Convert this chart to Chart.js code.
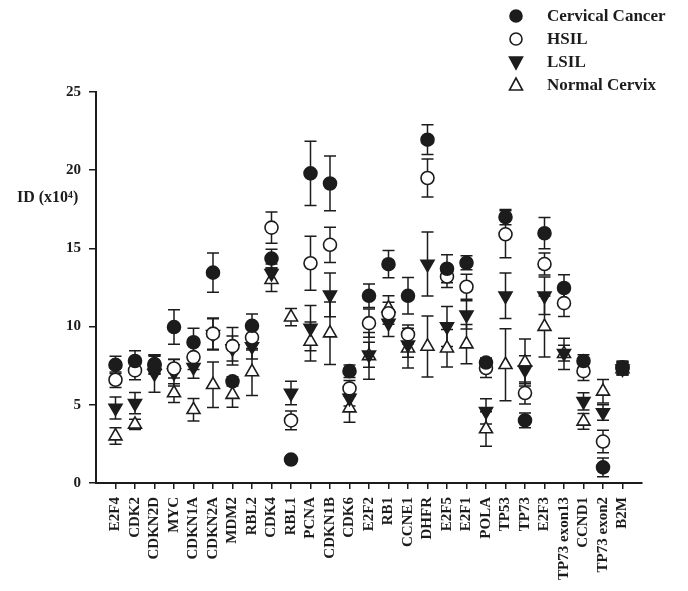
<!DOCTYPE html>
<html>
<head>
<meta charset="utf-8">
<script src="https://cdn.jsdelivr.net/npm/chart.js@4.4.1/dist/chart.umd.min.js"></script>
<style>
  html, body { margin: 0; padding: 0; background: #fff; }
  #wrap { width: 688px; height: 591px; position: relative; }
</style>
</head>
<body>
<div id="wrap"><canvas id="idChart"></canvas></div>
<script>
const categories = ['E2F4', 'CDK2', 'CDKN2D', 'MYC', 'CDKN1A', 'CDKN2A', 'MDM2', 'RBL2', 'CDK4', 'RBL1',
    'PCNA', 'CDKN1B', 'CDK6', 'E2F2', 'RB1', 'CCNE1', 'DHFR', 'E2F5', 'E2F1', 'POLA',
    'TP53', 'TP73', 'E2F3', 'TP73 exon13', 'CCND1', 'TP73 exon2', 'B2M'];

const cancerValues = [7.55, 7.8, 7.6, 9.97, 9.0, 13.45, 6.5, 10.05, 14.35, 1.5,
    19.8, 19.15, 7.15, 11.97, 13.99, 11.97, 21.95, 13.7, 14.08, 7.7,
    17.0, 4.0, 15.97, 12.47, 7.8, 1.0, 7.4];
const cancerErr = [0.55, 0.65, 0.6, 1.1, 0.9, 1.25, 0.3, 0.75, 0.6, 0.2,
    2.05, 1.75, 0.4, 0.75, 0.87, 1.17, 0.95, 0.9, 0.45, 0.3,
    0.48, 0.47, 1.0, 0.85, 0.4, 0.6, 0.4];

const hsilValues = [6.6, 7.2, 7.55, 7.32, 8.05, 9.55, 8.75, 9.3, 16.33, 4.0,
    14.05, 15.23, 6.05, 10.22, 10.85, 9.5, 19.5, 13.2, 12.55, 7.35,
    15.9, 5.75, 14.0, 11.5, 7.15, 2.65, 7.35];
const hsilErr = [0.5, 0.6, 0.6, 0.6, 0.8, 1.0, 1.2, 0.8, 1.0, 0.6,
    1.72, 1.13, 0.5, 0.9, 0.7, 0.6, 1.22, 0.7, 0.8, 0.6,
    1.5, 0.7, 0.7, 0.85, 0.6, 0.72, 0.4];

const lsilValues = [4.8, 5.1, 7.0, 7.05, 7.4, 9.5, 8.6, 8.73, 13.4, 5.75,
    9.9, 12.03, 5.43, 8.2, 10.22, 8.84, 14.0, 10.0, 10.75, 4.58,
    11.97, 7.24, 11.97, 8.3, 5.22, 4.51, 7.3];
const lsilErr = [0.7, 0.68, 1.2, 0.85, 0.7, 1.0, 0.8, 0.8, 0.6, 0.75,
    1.45, 1.4, 0.5, 0.8, 0.85, 0.8, 2.05, 1.28, 0.9, 0.8,
    1.45, 0.9, 1.2, 0.5, 0.55, 0.5, 0.4];

const normalValues = [3.0, 3.75, 7.55, 5.75, 4.68, 6.28, 5.65, 7.1, 13.0, 10.6,
    9.05, 9.58, 4.79, 8.13, 11.18, 8.62, 8.73, 8.62, 8.88, 3.45,
    7.56, 7.71, 10.0, 8.26, 3.94, 5.86, 7.3];
const normalErr = [0.53, 0.33, 0.55, 0.6, 0.72, 1.45, 0.8, 1.5, 0.75, 0.55,
    1.25, 2.0, 0.9, 1.5, 0.8, 1.27, 1.95, 1.2, 1.25, 1.1,
    2.3, 1.5, 1.95, 1.0, 0.5, 0.75, 0.4];

const yTicks = [0, 5, 10, 15, 20, 25];

const ink = '#1c1c1c';
const serif = "'Liberation Serif', 'DejaVu Serif', serif";

function points(values) {
    return values.map((v, i) => ({ x: i, y: v }));
}

// error bars, drawn under the markers
const errorBars = {
    id: 'errorBars',
    beforeDatasetsDraw(chart) {
        const { ctx, scales: { x, y } } = chart;
        ctx.save();
        ctx.strokeStyle = ink;
        ctx.lineWidth = 1.5;
        chart.data.datasets.forEach((ds) => {
            ds.data.forEach((p, i) => {
                const e = ds.errors[i];
                const px = x.getPixelForValue(p.x);
                const top = y.getPixelForValue(p.y + e);
                const bot = y.getPixelForValue(p.y - e);
                ctx.beginPath();
                ctx.moveTo(px, top); ctx.lineTo(px, bot);
                ctx.moveTo(px - 6, top); ctx.lineTo(px + 6, top);
                ctx.moveTo(px - 6, bot); ctx.lineTo(px + 6, bot);
                ctx.stroke();
            });
        });
        ctx.restore();
    }
};

// legend in the top right corner plus the y axis title
const sideText = {
    id: 'sideText',
    afterDraw(chart) {
        const { ctx } = chart;
        ctx.save();
        ctx.font = 'bold 16px ' + serif;
        ctx.fillStyle = ink;
        ctx.textBaseline = 'middle';
        ctx.textAlign = 'left';
        ctx.fillText('ID (x10\u2074)', 17, 198);

        ctx.font = 'bold 17px ' + serif;
        chart.data.datasets.forEach((ds, k) => {
            const cy = 16 + k * 23;
            const cx = 516;
            ctx.beginPath();
            if (ds.pointStyle === 'circle') {
                ctx.arc(cx, cy, 6, 0, Math.PI * 2);
            } else if (ds.pointRotation === 180) {
                ctx.moveTo(cx - 6.5, cy - 5); ctx.lineTo(cx + 6.5, cy - 5); ctx.lineTo(cx, cy + 7); ctx.closePath();
            } else {
                ctx.moveTo(cx - 6.5, cy + 5); ctx.lineTo(cx + 6.5, cy + 5); ctx.lineTo(cx, cy - 7); ctx.closePath();
            }
            ctx.fillStyle = ds.pointBackgroundColor;
            ctx.fill();
            ctx.lineWidth = 1.6;
            ctx.strokeStyle = ink;
            ctx.stroke();
            ctx.fillStyle = ink;
            ctx.fillText(ds.label, 547, cy + 1);
        });
        ctx.restore();
    }
};

function series(label, values, errors, style, fill, rotation, radius) {
    return {
        label: label,
        data: points(values),
        errors: errors,
        pointStyle: style,
        pointRotation: rotation,
        pointRadius: radius,
        pointHoverRadius: radius,
        pointBackgroundColor: fill,
        pointBorderColor: ink,
        pointBorderWidth: 1.6,
        showLine: false
    };
}

new Chart(document.getElementById('idChart'), {
    type: 'scatter',
    data: {
        datasets: [
            series('Cervical Cancer', cancerValues, cancerErr, 'circle', ink, 0, 6.5),
            series('HSIL', hsilValues, hsilErr, 'circle', '#ffffff', 0, 6.5),
            series('LSIL', lsilValues, lsilErr, 'triangle', ink, 180, 7.5),
            series('Normal Cervix', normalValues, normalErr, 'triangle', '#ffffff', 0, 7.5)
        ]
    },
    options: {
        responsive: true,
        maintainAspectRatio: false,
        animation: false,
        layout: { padding: { top: 92, right: 46, left: 0, bottom: 0 } },
        plugins: {
            legend: { display: false },
            tooltip: { enabled: false }
        },
        scales: {
            x: {
                type: 'linear',
                min: -1,
                max: 27,
                afterBuildTicks: (scale) => {
                    scale.ticks = categories.map((c, i) => ({ value: i }));
                },
                afterFit: (scale) => { scale.height = 108; },
                border: { color: ink, width: 2 },
                grid: { display: true, drawOnChartArea: false, drawTicks: true, tickLength: 6, color: ink, lineWidth: 1.5 },
                ticks: {
                    autoSkip: false,
                    maxRotation: 90,
                    minRotation: 90,
                    padding: 8,
                    color: ink,
                    font: { family: serif, size: 15, weight: 'bold' },
                    callback: (value) => categories[value]
                }
            },
            y: {
                min: 0,
                max: 25,
                afterBuildTicks: (scale) => {
                    scale.ticks = yTicks.map((v) => ({ value: v }));
                },
                afterFit: (scale) => { scale.width = 96; },
                border: { color: ink, width: 2 },
                grid: { display: true, drawOnChartArea: false, drawTicks: true, tickLength: 7, color: ink, lineWidth: 1.5 },
                ticks: {
                    padding: 8,
                    color: ink,
                    font: { family: serif, size: 15, weight: 'bold' }
                }
            }
        }
    },
    plugins: [errorBars, sideText]
});
</script>
</body>
</html>
